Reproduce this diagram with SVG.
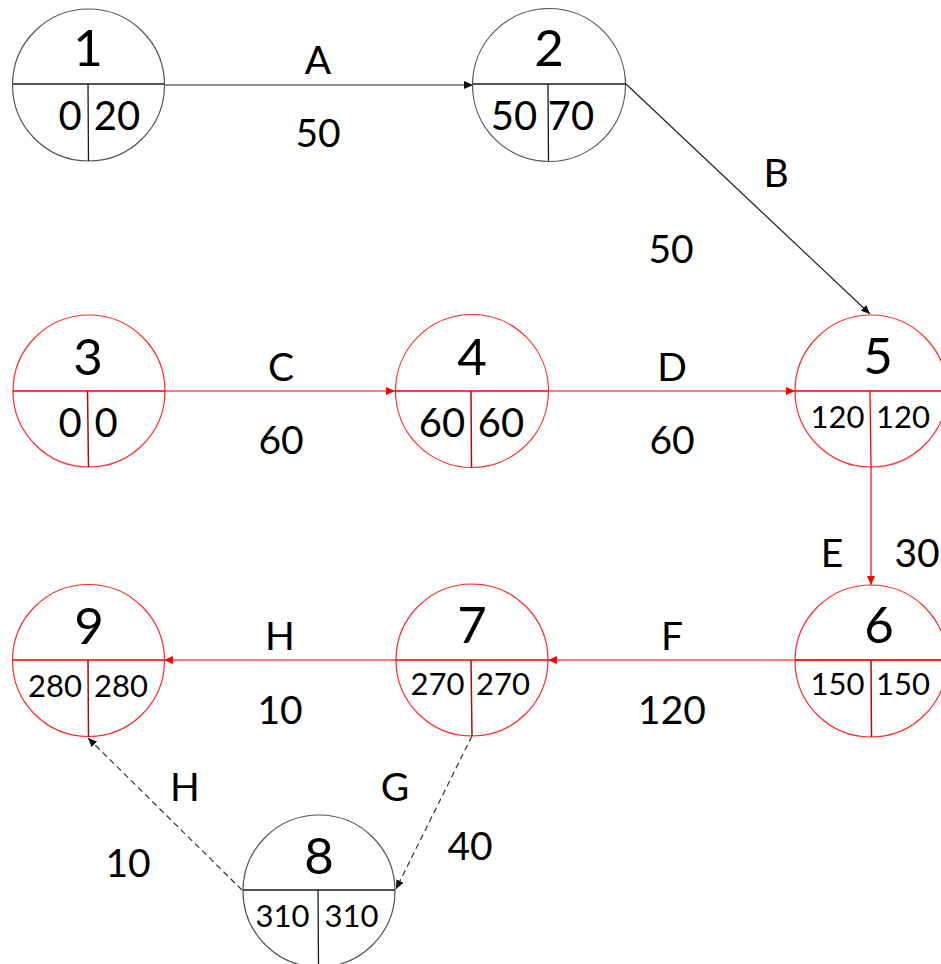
<svg xmlns="http://www.w3.org/2000/svg" width="941" height="964" viewBox="0 0 941 964">
<style>
  .bg{fill:#ffffff}
  .cb{fill:none;stroke:#555555;stroke-width:1.2}
  .cr{fill:none;stroke:#ff2a2a;stroke-width:1.2}
  .lb{stroke:#1a1a1a;stroke-width:1.3;fill:none}
  .lr{stroke:#ff0000;stroke-width:1.3;fill:none}
  .lv{stroke:#a01010;stroke-width:1.5;fill:none}
  .num{font-family:Lato,"Liberation Sans",sans-serif;font-size:51px;fill:#000;text-anchor:middle}
  .v2{font-family:Lato,"Liberation Sans",sans-serif;font-size:40px;fill:#000;text-anchor:middle}
  .v3{font-family:Lato,"Liberation Sans",sans-serif;font-size:31px;fill:#000;text-anchor:middle}
  .lab{font-family:Lato,"Liberation Sans",sans-serif;font-size:39px;fill:#000;text-anchor:middle}
  .cxb{stroke:#222222;stroke-width:1.2;fill:none}
  .cxr{stroke:#ff0000;stroke-width:1.2;fill:none}
  .dash{stroke:#333333;stroke-width:1.2;fill:none;stroke-dasharray:6,4}
</style>
<defs>
  <marker id="ab" markerUnits="userSpaceOnUse" markerWidth="10" markerHeight="8" refX="9" refY="4" orient="auto">
    <path d="M0,0 L9,4 L0,8 z" fill="#111111"/>
  </marker>
  <marker id="ar" markerUnits="userSpaceOnUse" markerWidth="10" markerHeight="8" refX="9" refY="4" orient="auto">
    <path d="M0,0 L9,4 L0,8 z" fill="#ff0000"/>
  </marker>
</defs>
<rect class="bg" x="0" y="0" width="941" height="964"/>

<g id="connectors">
  <line id="A" class="cxb" x1="164" y1="85" x2="473" y2="85" marker-end="url(#ab)"/>
  <line id="B" class="cxb" x1="626" y1="84" x2="870" y2="314" marker-end="url(#ab)"/>
  <line id="C" class="cxr" x1="165" y1="391" x2="395" y2="391" marker-end="url(#ar)"/>
  <line id="D" class="cxr" x1="548" y1="391" x2="795" y2="391" marker-end="url(#ar)"/>
  <line id="E" class="cxr" x1="871" y1="467" x2="871" y2="585" marker-end="url(#ar)"/>
  <line id="F" class="cxr" x1="941" y1="660" x2="548" y2="660" marker-end="url(#ar)"/>
  <line id="H1" class="cxr" x1="395" y1="660" x2="164" y2="660" marker-end="url(#ar)"/>
  <line id="G" class="dash" x1="472" y1="736" x2="396" y2="889" marker-end="url(#ab)"/>
  <line id="H2" class="dash" x1="242" y1="890" x2="88" y2="738" marker-end="url(#ab)"/>
</g>

<g id="labels">
  <text class="lab" x="318" y="74">A</text>
  <text class="lab" x="318" y="147">50</text>
  <text class="lab" x="776" y="187">B</text>
  <text class="lab" x="671" y="263">50</text>
  <text class="lab" x="281" y="381">C</text>
  <text class="lab" x="281" y="454">60</text>
  <text class="lab" x="672" y="381">D</text>
  <text class="lab" x="672" y="454">60</text>
  <text class="lab" x="832" y="567">E</text>
  <text class="lab" x="917" y="567">30</text>
  <text class="lab" x="280" y="650">H</text>
  <text class="lab" x="280" y="724">10</text>
  <text class="lab" x="672" y="650">F</text>
  <text class="lab" x="672" y="724">120</text>
  <text class="lab" x="185" y="801">H</text>
  <text class="lab" x="128" y="877">10</text>
  <text class="lab" x="395" y="801">G</text>
  <text class="lab" x="470" y="860">40</text>
</g>

<g id="node1">
  <circle class="cb" cx="88.5" cy="85" r="76"/>
  <line class="lb" x1="13" y1="84" x2="164" y2="84"/>
  <line class="lb" x1="88" y1="84" x2="88.5" y2="161"/>
  <text class="num" x="88" y="66">1</text>
  <text class="v2" x="70" y="130">0</text>
  <text class="v2" x="117" y="130">20</text>
</g>

<g id="node2">
  <circle class="cb" cx="549" cy="85" r="76.5"/>
  <line class="lb" x1="473" y1="84" x2="626" y2="84"/>
  <line class="lb" x1="548" y1="84" x2="548.5" y2="161"/>
  <text class="num" x="549" y="66">2</text>
  <text class="v2" x="514" y="130">50</text>
  <text class="v2" x="571" y="130">70</text>
</g>

<g id="node3">
  <circle class="cr" cx="89" cy="391" r="76"/>
  <line class="lr" x1="13" y1="391" x2="165" y2="391"/>
  <line class="lv" x1="87.5" y1="391" x2="88.5" y2="467"/>
  <text class="num" x="88" y="375">3</text>
  <text class="v2" x="70" y="437">0</text>
  <text class="v2" x="106" y="437">0</text>
</g>

<g id="node4">
  <circle class="cr" cx="472" cy="391" r="76.5"/>
  <line class="lr" x1="395" y1="391" x2="548" y2="391"/>
  <line class="lv" x1="471" y1="391" x2="471.5" y2="467"/>
  <text class="num" x="472" y="375">4</text>
  <text class="v2" x="442" y="437">60</text>
  <text class="v2" x="501" y="437">60</text>
</g>

<g id="node5">
  <circle class="cr" cx="871" cy="391" r="76"/>
  <line class="lr" x1="795" y1="391" x2="941" y2="391"/>
  <line class="lr" x1="870" y1="391" x2="871" y2="467"/>
  <text class="num" x="878" y="374">5</text>
  <text class="v3" x="837.5" y="428">120</text>
  <text class="v3" x="903" y="428">120</text>
</g>

<g id="node6">
  <circle class="cr" cx="871" cy="661" r="76"/>
  <line class="lr" x1="795" y1="660" x2="941" y2="660"/>
  <line class="lv" x1="871" y1="660" x2="871.5" y2="737"/>
  <text class="num" x="879" y="643">6</text>
  <text class="v3" x="837.5" y="695">150</text>
  <text class="v3" x="903" y="695">150</text>
</g>

<g id="node7">
  <circle class="cr" cx="472" cy="660" r="76"/>
  <line class="lr" x1="395" y1="660" x2="548" y2="660"/>
  <line class="lv" x1="471" y1="660" x2="472" y2="736"/>
  <text class="num" x="472" y="643">7</text>
  <text class="v3" x="437.5" y="695">270</text>
  <text class="v3" x="503" y="695">270</text>
</g>

<g id="node8">
  <circle class="cb" cx="319" cy="891" r="76"/>
  <line class="lb" x1="243" y1="890" x2="395" y2="890"/>
  <line class="lb" x1="318" y1="890" x2="318.5" y2="964"/>
  <text class="num" x="319" y="874">8</text>
  <text class="v3" x="282.5" y="927">310</text>
  <text class="v3" x="351.5" y="927">310</text>
</g>

<g id="node9">
  <circle class="cr" cx="88.5" cy="660.5" r="76"/>
  <line class="lr" x1="13" y1="660" x2="164" y2="660"/>
  <line class="lv" x1="88" y1="660" x2="88.5" y2="737"/>
  <text class="num" x="89" y="644">9</text>
  <text class="v3" x="55" y="697">280</text>
  <text class="v3" x="121" y="697">280</text>
</g>
</svg>
